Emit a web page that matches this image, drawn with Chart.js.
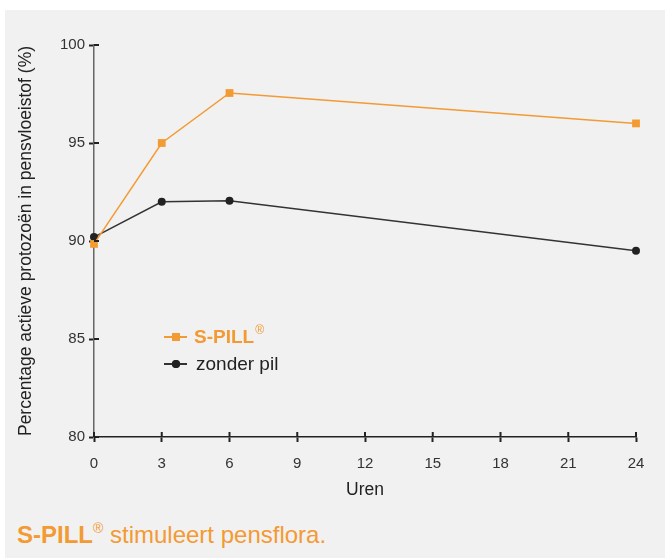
<!DOCTYPE html>
<html>
<head>
<meta charset="utf-8">
<script src="https://cdn.jsdelivr.net/npm/chart.js@4"></script>
<style>
  body { margin: 0; background: #fff; font-family: "Liberation Sans", Arial, sans-serif; }
  #panel { position: absolute; left: 5px; top: 10px; width: 660px; height: 548px; background: #f1f1f1; }
  #wrap { position: absolute; left: 0; top: 0; width: 660px; height: 500px; }
  #caption { position: absolute; left: 12px; top: 511px; font-size: 24px; color: #f39a33; white-space: nowrap; }
  #caption b { font-weight: bold; }
  #caption sup { font-size: 14px; vertical-align: 10px; line-height: 0; }
</style>
</head>
<body>
<div id="panel">
  <div id="wrap"><canvas id="chart"></canvas></div>
  <div id="caption"><b>S-PILL</b><sup>®</sup> stimuleert pensflora.</div>
</div>
<script>
// data
const hours = [0, 3, 6, 24];
const spill = [89.85, 95.0, 97.55, 96.0];
const zonderPil = [90.2, 92.0, 92.05, 89.5];
const xTicks = [0, 3, 6, 9, 12, 15, 18, 21, 24];
const yTicks = [80, 85, 90, 95, 100];

const ORANGE = '#f39a33';
const DARK = '#222222';
const FONT = '"Liberation Sans", Arial';

function pts(xs, ys) {
    return xs.map((x, i) => ({ x: x, y: ys[i] }));
}

// tick marks that cross the axis line (inner half)
const innerTicks = {
    id: 'innerTicks',
    afterDraw(chart) {
        const ctx = chart.ctx;
        const xs = chart.scales.x, ys = chart.scales.y;
        ctx.save();
        ctx.strokeStyle = DARK;
        ctx.lineWidth = 2;
        ctx.beginPath();
        xTicks.forEach(v => {
            const px = xs.getPixelForValue(v);
            ctx.moveTo(px, ys.bottom);
            ctx.lineTo(px, ys.bottom - 5);
        });
        yTicks.forEach(v => {
            const py = ys.getPixelForValue(v);
            ctx.moveTo(xs.left, py);
            ctx.lineTo(xs.left + 5, py);
        });
        ctx.stroke();
        ctx.restore();
    }
};

// legend drawn inside the plot, line + marker like the original
const insideLegend = {
    id: 'insideLegend',
    afterDraw(chart) {
        const ctx = chart.ctx;
        const x0 = 159, rows = [327, 354];
        ctx.save();
        chart.data.datasets.forEach((ds, i) => {
            const y = rows[i];
            ctx.strokeStyle = ds.borderColor;
            ctx.lineWidth = 2;
            ctx.beginPath();
            ctx.moveTo(x0, y);
            ctx.lineTo(x0 + 23, y);
            ctx.stroke();
            ctx.fillStyle = ds.pointBackgroundColor;
            Chart.helpers.drawPoint(ctx, {
                pointStyle: ds.pointStyle, radius: ds.pointRadius,
                borderWidth: 0
            }, x0 + 12, y);
            ctx.fill();
            ctx.textBaseline = 'middle';
            if (i === 0) {
                ctx.fillStyle = ORANGE;
                ctx.font = 'bold 19px ' + FONT;
                ctx.fillText('S-PILL', x0 + 30, y + 1);
                const w = ctx.measureText('S-PILL').width;
                ctx.font = '12px ' + FONT;
                ctx.fillText('®', x0 + 31 + w, y - 6);
            } else {
                ctx.fillStyle = DARK;
                ctx.font = '19px ' + FONT;
                ctx.fillText(ds.label, x0 + 32, y + 1);
            }
        });
        ctx.restore();
    }
};

new Chart(document.getElementById('chart'), {
    type: 'line',
    data: {
        datasets: [
            {
                label: 'S-PILL®',
                data: pts(hours, spill),
                borderColor: ORANGE,
                backgroundColor: ORANGE,
                pointBackgroundColor: ORANGE,
                borderWidth: 1.5,
                pointStyle: 'rect',
                pointRadius: 5.5,
                pointBorderWidth: 0,
                clip: false,
                tension: 0
            },
            {
                label: 'zonder pil',
                data: pts(hours, zonderPil),
                borderColor: '#333333',
                backgroundColor: DARK,
                pointBackgroundColor: DARK,
                borderWidth: 1.5,
                pointStyle: 'circle',
                pointRadius: 4,
                pointBorderWidth: 0,
                clip: false,
                tension: 0
            }
        ]
    },
    options: {
        responsive: true,
        maintainAspectRatio: false,
        animation: false,
        layout: { padding: { left: 0, right: 29, top: 35, bottom: 0 } },
        plugins: {
            legend: { display: false },
            tooltip: { enabled: false }
        },
        scales: {
            x: {
                type: 'linear',
                min: 0, max: 24,
                afterBuildTicks: s => { s.ticks = xTicks.map(v => ({ value: v })); },
                afterFit: s => { s.height = 73; },
                grid: { drawOnChartArea: false, drawTicks: true, tickLength: 5, tickWidth: 2, tickColor: DARK },
                border: { color: DARK, width: 1.5 },
                ticks: { color: '#333', padding: 13, font: { size: 15, family: FONT } },
                title: { display: true, text: 'Uren', color: '#222', padding: { top: 4, bottom: 9 }, font: { size: 17.5, family: FONT } }
            },
            y: {
                min: 80, max: 100,
                afterBuildTicks: s => { s.ticks = yTicks.map(v => ({ value: v })); },
                afterFit: s => { s.width = 89; },
                grid: { drawOnChartArea: false, drawTicks: true, tickLength: 5, tickWidth: 2, tickColor: DARK },
                border: { color: '#666', width: 1.5 },
                ticks: { color: '#333', padding: 4, font: { size: 15, family: FONT } },
                title: { display: true, text: 'Percentage actieve protozoën in pensvloeistof (%)', color: '#222', padding: { top: 11 }, font: { size: 17.5, family: FONT } }
            }
        }
    },
    plugins: [innerTicks, insideLegend]
});
</script>
</body>
</html>
